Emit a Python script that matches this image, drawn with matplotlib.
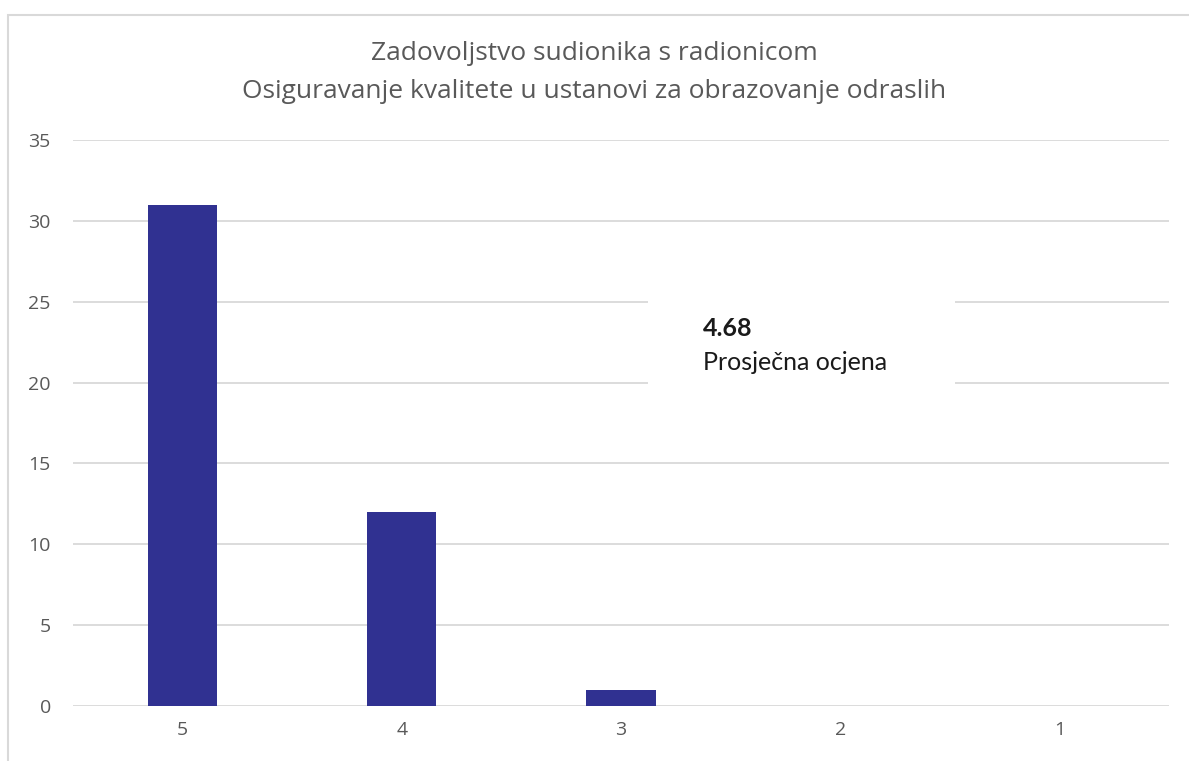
import matplotlib
matplotlib.use("Agg")
import matplotlib.pyplot as plt
from matplotlib.patches import Rectangle

categories = ["5", "4", "3", "2", "1"]
counts = [31, 12, 1, 0, 0]
yticks = [0, 5, 10, 15, 20, 25, 30, 35]
title_lines = ["Zadovoljstvo sudionika s radionicom",
               "Osiguravanje kvalitete u ustanovi za obrazovanje odraslih"]
avg_value = "4.68"
avg_label = "Prosječna ocjena"

W, H = 1189, 761
fig = plt.figure(figsize=(W / 100, H / 100), dpi=100)
fig.patch.set_facecolor("white")

# outer chart border
fig.patches.append(Rectangle((8 / W, -0.1), 1.2, (H - 15) / H + 0.1,
                             transform=fig.transFigure, fill=False,
                             edgecolor="#d9d9d9", linewidth=1.5))

ax = fig.add_axes([73 / W, 55 / H, 1096 / W, 566 / H])
x = range(len(categories))
ax.bar(x, counts, width=0.315, color="#303191", zorder=2)
ax.set_xlim(-0.5, len(categories) - 0.5)
ax.set_ylim(0, 35)
ax.set_yticks(yticks)
ax.set_xticks(list(x))
ax.set_xticklabels(categories)
ax.grid(axis="y", color="#d9d9d9", linewidth=1.3, zorder=0)
for s in ax.spines.values():
    s.set_visible(False)
ax.tick_params(axis="x", length=0, labelsize=14, labelcolor="#595959", pad=11)
ax.tick_params(axis="y", length=0, labelsize=14, labelcolor="#595959", pad=16)
for lbl in ax.get_xticklabels() + ax.get_yticklabels():
    lbl.set_fontfamily("Open Sans")

fig.text(0.5, 1 - 54 / H, title_lines[0], ha="center", va="center",
         fontsize=19, color="#595959", family="Open Sans")
fig.text(0.5, 1 - 92 / H, title_lines[1], ha="center", va="center",
         fontsize=19, color="#595959", family="Open Sans")

# white box with average rating
fig.patches.append(Rectangle((648 / W, 1 - 395 / H), 307 / W, 105 / H,
                             transform=fig.transFigure, facecolor="white",
                             edgecolor="none", zorder=5))
fig.text(703 / W, 1 - 328 / H, avg_value, ha="left", va="center",
         fontsize=18, fontweight="bold", color="#1a1a1a", family="Lato", zorder=6)
fig.text(703 / W, 1 - 363 / H, avg_label, ha="left", va="center",
         fontsize=18, color="#1a1a1a", family="Lato", zorder=6)

fig.savefig("out.png", dpi=100, facecolor="white")
